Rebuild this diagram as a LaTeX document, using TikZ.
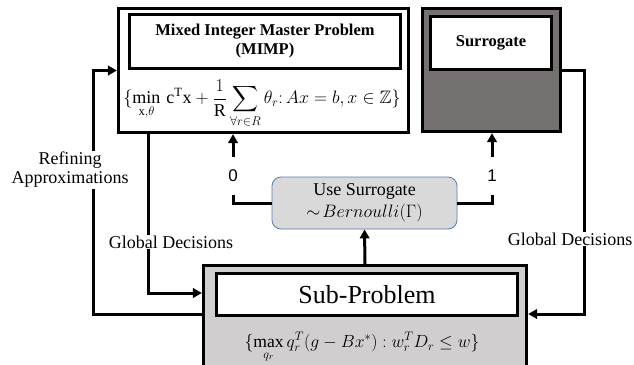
\RequirePackage{fix-cm}
\documentclass[tikz,border=0pt]{standalone}
\usepackage{amsmath,amssymb}
\usepackage{fontspec}
\setmainfont{Liberation Serif}
\newfontfamily\digitfont{Liberation Sans}
\usetikzlibrary{arrows.meta}
\definecolor{subgray}{HTML}{D0CECE}
\definecolor{surgray}{HTML}{767171}
\definecolor{berngray}{HTML}{D9D9D9}
\definecolor{bernedge}{HTML}{5B7DB1}
\tikzset{
  boxline/.style={draw=black, line width=3.2pt, inner sep=0pt},
  conn/.style={draw=black, line width=3pt},
  arr/.style={conn, -{Triangle[length=9pt,width=9.5pt]}},
  lbl/.style={fill=white, inner sep=1pt, align=center, font=\fontsize{18}{19}\selectfont},
  digit/.style={inner sep=0pt, minimum height=38pt, font=\digitfont\fontsize{17}{18}\selectfont},
  titletext/.style={align=center, font=\bfseries\fontsize{16.5}{19}\selectfont}
}
\begin{document}
\begin{tikzpicture}[x=1pt,y=-1pt]
\clip (0,0) rectangle (634,364);
\fill[white] (0,0) rectangle (634,364);

% MIMP
\node[boxline, fill=white, minimum width=290pt, minimum height=124pt] (mimp) at (263.5,70.5) {};
\node[boxline, fill=white, minimum width=271pt, minimum height=54pt, titletext] (mimptitle) at (265,41.5) {Mixed Integer Master Problem\\(MIMP)};
\node[inner sep=0pt, font=\fontsize{18}{21}\selectfont] (mimpform) at (262,104)
  {$\displaystyle \{\min_{\mathrm{x},\theta}\,\mathrm{c}^{\mathrm{T}}\mathrm{x}+\frac{1}{\mathrm{R}}\sum_{\forall r\in R}\theta_r{:}\,Ax=b,x\in\mathbb{Z}\}$};

% Surrogate
\node[boxline, fill=surgray, minimum width=138pt, minimum height=123pt] (surout) at (491.5,70) {};
\node[boxline, fill=white, minimum width=121pt, minimum height=53pt, titletext] (surin) at (491,43) {Surrogate};

% Bernoulli
\node[draw=bernedge, line width=0.8pt, fill=berngray, rounded corners=9pt, minimum width=185pt, minimum height=52pt, align=center, font=\fontsize{18}{22}\selectfont] (bern) at (364.5,203) {Use Surrogate\\$\sim\! Bernoulli(\Gamma)$};

% Sub-problem
\node[boxline, fill=subgray, minimum width=323pt, minimum height=134pt] (subout) at (365,332.5) {};
\node[boxline, fill=white, minimum width=301pt, minimum height=42pt, font=\fontsize{26}{28}\selectfont] (subin) at (367,294.5) {Sub-Problem};
\node[inner sep=0pt, font=\fontsize{17.6}{20}\selectfont] (subform) at (362,347)
  {$\displaystyle \{\max_{q_r} q_r^T(g-Bx^{*}) : w_r^T D_r \le w\}$};

% digit labels
\node[digit] (zero) at (233,176) {0};
\node[digit] (one) at (492,176) {1};

% connectors
\draw[arr] ([xshift=31.5pt]mimp.south west) |- ([yshift=39.5pt]subout.west);
\draw[arr] ([yshift=18.5pt]subout.west) -- ++(-108.5,0) |- (mimp.west);
\draw[arr] (surout.east) -- ++(22.5,0) |- ([yshift=18.5pt]subout.east);
\draw[arr] (subout.north) -- (bern.south);
\draw[conn] (bern.west) -| (zero.south);
\draw[arr] (zero.north) -- (zero.north |- mimp.south);
\draw[conn] (bern.east) -| (one.south);
\draw[arr] (one.north) -- (one.north |- surout.south);

% labels
\node[lbl] (gdleft) at (171,242) {Global Decisions};
\node[lbl] (refine) at (70,170) {Refining\\Approximations};
\node[lbl] (gdright) at (570,239) {Global Decisions};
\end{tikzpicture}
\end{document}
